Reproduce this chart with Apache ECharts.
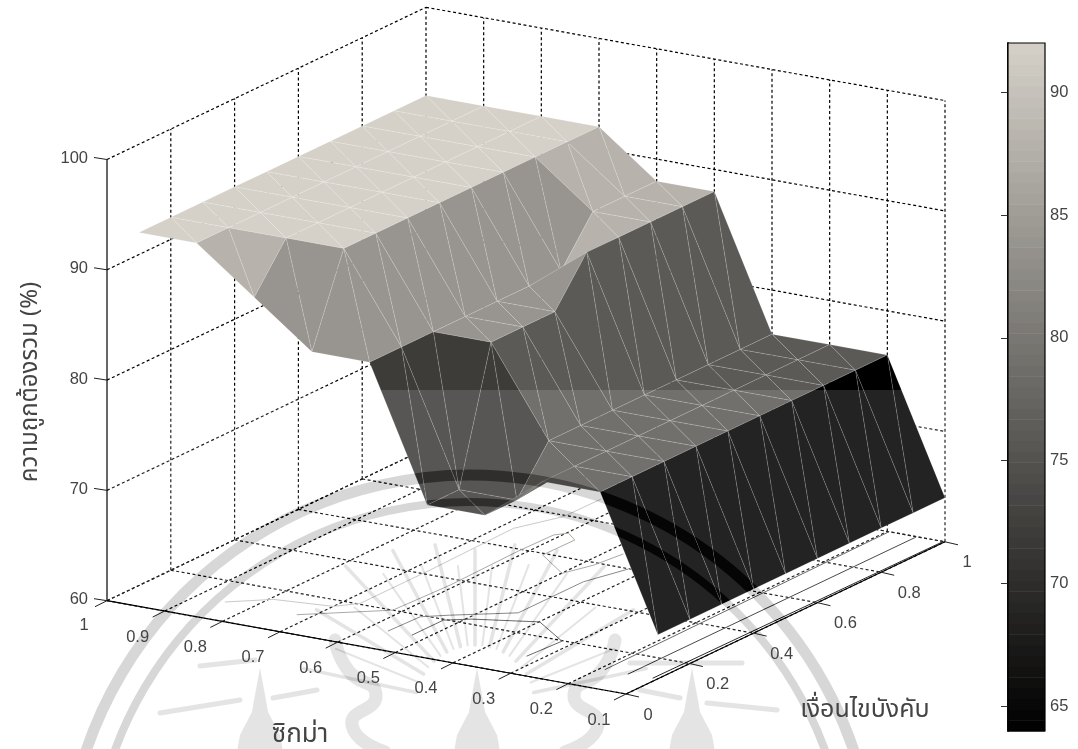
<!DOCTYPE html>
<html><head><meta charset="utf-8">
<style>html,body{margin:0;padding:0;background:#fff}#c{width:1078px;height:749px}</style>
<script src="https://cdn.jsdelivr.net/npm/echarts@6/dist/echarts.min.js"></script>
</head><body><div id="c"></div>
<script>
// ---- data ----
const sigmaValues = [1,0.9,0.8,0.7,0.6,0.5,0.4,0.3,0.2,0.1];
const cValues = [0.1,0.2,0.3,0.4,0.5,0.6,0.7,0.8,0.9,1];
const accuracy = [
 [92,92,92,92,92,92,92,92,92,92],
 [92,92,92,92,92,92,92,92,92,92],
 [88,92,92,92,92,92,92,92,92,92],
 [84,92,92,92,92,92,92,92,92,92],
 [84,84,84,84,84,84,84,88,88,88],
 [72,72,84,84,84,88,88,88,88,88],
 [72,72,76,76,76,76,76,76,76,76],
 [76,76,76,76,76,76,76,76,76,76],
 [76,76,76,76,76,76,76,76,76,76],
 [64,64,64,64,64,64,64,64,64,64]
];
const sigmaTicks = [1,0.9,0.8,0.7,0.6,0.5,0.4,0.3,0.2,0.1];
const cTicks = [0,0.2,0.4,0.6,0.8,1];
const zTicks = [60,70,80,90,100];
const colorbarTicks = [65,70,75,80,85,90];
const contourLevels = [90,85,80,75,75,70,65];
const contourSigma = [
 [.848,.794,.70,.674,.674,.679,.647,.646],
 [.724,.615,.609,.613,.611,.597,.571,.572,.499,.481,.473],
 [.566,.563,.53,.45,.45,.427],
 [.525,.525,.492,.399,.32,.325],
 [.191,.197],
 [.15,.149],
 [.108,.103]
];
const contourC = [
 [.095,.149,.167,.204,.424,.694,.793,.908],
 [.096,.2,.369,.59,.697,.718,.691,.592,.521,.587,.666],
 [.096,.192,.225,.295,.499,.598],
 [.097,.196,.225,.27,.197,.095],
 [.098,1],
 [.096,.997],
 [.098,1]
];
const zMin = 60, zMax = 100, cbMin = 64, cbMax = 92;
const texts = {z:'ความถูกต้องรวม (%)', s:'ซิกม่า', c:'เงื่อนไขบังคับ'};

// ---- view: orthographic 3-D -> plane ----
const O=[107,600.7], cVec=[319,-152.2], sVec=[519,93.3], zk=11.03;
function project(s,c,z){
  const t=(1-s)/0.9;
  return [O[0]+c*cVec[0]+t*sVec[0], O[1]+c*cVec[1]+t*sVec[1]-(z-zMin)*zk];
}
function shade(v){
  const t=Math.max(0,Math.min(1,(v-cbMin)/(cbMax-cbMin)));
  return 'rgb('+Math.round(213*t)+','+Math.round(209*t)+','+Math.round(201*t)+')';
}
const FONT='16.5px "Liberation Sans","Noto Sans",sans-serif', TXT='#444';
const THAI='"Noto Sans Thai","Noto Serif Thai","DejaVu Sans","Noto Sans",sans-serif';

// ---- series data ----
const tris=[];
for(let i=0;i<sigmaValues.length-1;i++){
  for(let j=cValues.length-2;j>=0;j--){
    const A=[sigmaValues[i],cValues[j],accuracy[i][j]],
          B=[sigmaValues[i+1],cValues[j],accuracy[i+1][j]],
          C=[sigmaValues[i],cValues[j+1],accuracy[i][j+1]],
          D=[sigmaValues[i+1],cValues[j+1],accuracy[i+1][j+1]];
    tris.push([...C,...D,...B,B[2]]);
    tris.push([...A,...C,...B,B[2]]);
  }
}
const gridSegs=[];
const s0=sigmaTicks[0], s1=sigmaTicks[sigmaTicks.length-1];
zTicks.forEach(z=>{ gridSegs.push([s0,0,z,s0,1,z]); gridSegs.push([s0,1,z,s1,1,z]); });
cTicks.forEach(c=>{ gridSegs.push([s0,c,zMin,s1,c,zMin]); if(c>0) gridSegs.push([s0,c,zMin,s0,c,zMax]); });
sigmaTicks.forEach(s=>{ gridSegs.push([s,0,zMin,s,1,zMin]); if(s<s0) gridSegs.push([s,1,zMin,s,1,zMax]); });
const axisSegs=[[s0,0,zMin,s0,0,zMax],[s0,0,zMin,s1,0,zMin],[s1,0,zMin,s1,1,zMin]];
const tickLen={s:[-12,6],c:[13,3],z:[-13,-2]};
const tickItems=[];
sigmaTicks.forEach(s=>tickItems.push([s,0,zMin,tickLen.s[0],tickLen.s[1]]));
cTicks.forEach(c=>tickItems.push([s1,c,zMin,tickLen.c[0],tickLen.c[1]]));
zTicks.forEach(z=>tickItems.push([s0,0,z,tickLen.z[0],tickLen.z[1]]));
const labelItems=[];
sigmaTicks.forEach(s=>labelItems.push([s,0,zMin,String(s),s===1?-23:-27,s===1?25:26,'center']));
cTicks.forEach(c=>labelItems.push([s1,c,zMin,String(c),(c===0||c===1)?22:28,21,'center']));
zTicks.forEach(z=>labelItems.push([s0,0,z,String(z),-19,-1,'right']));
const contourData=contourSigma.map((row,i)=>({value:[i,contourLevels[i]]}));
const cbLevels=[];
for(let i=0;i<64;i++) cbLevels.push([cbMin+i*(cbMax-cbMin)/64, cbMin+(i+1)*(cbMax-cbMin)/64]);

// ---- watermark (decoration) ----
const WM='#282828', WML='#1b1b1b';
const wm=[];
function wmLine(pts,w,smooth,col){wm.push({type:'polyline',z:60,silent:true,shape:{points:pts,smooth:smooth||0},style:{stroke:col||WML,lineWidth:w,fill:null,lineCap:'round',blend:'difference'}});}
function wmRing(R,w){wm.push({type:'arc',z:60,silent:true,shape:{cx:470,cy:880,r:R,startAngle:Math.PI*1.05,endAngle:Math.PI*1.95},style:{stroke:WM,lineWidth:w,fill:null,blend:'difference'}});}
wmRing(405,11); wmRing(378,8);
const rayAngles=[12,22,31,39,47,55,62,69,76,83,90,97,104,111,118,125,133,141,149,158,168];
const rayOuter=[175,150,185,155,190,160,175,150,165,140,155,140,165,150,175,160,190,155,185,150,175];
rayAngles.forEach((a,i)=>{
  const r=a*Math.PI/180, c=Math.cos(r), s=Math.sin(r), R1=60, R2=rayOuter[i];
  wmLine([[475+c*R1,705-s*R1],[475+c*R2,705-s*R2]],i%2?2:3.5);
});
[[[335,640],[348,670],[376,695],[352,725],[385,752]],[[615,640],[602,670],[574,695],[598,725],[565,752]]].forEach(p=>wmLine(p,13,0.6));
[[[200,666],[255,660]],[[160,713],[240,700]],[[273,698],[317,690]],[[630,663],[742,663]],[[707,703],[777,710]],[[640,690],[680,698]]].forEach(p=>wmLine(p,5));
[260,692,477].forEach(x=>{
  wm.push({type:'polygon',z:60,silent:true,shape:{points:[[x,668],[x+5,695],[x+8,712],[x+20,735],[x+23,752],[x-23,752],[x-20,735],[x-8,712],[x-5,695]]},style:{fill:WML,blend:'difference'}});
});
wm.push({type:'rect',z:50,silent:true,shape:{x:0,y:390,width:985,height:359},style:{fill:'rgba(255,255,255,0.137)'}});
wm.push({type:'text',z:90,silent:true,x:32,y:382,rotation:Math.PI/2,style:{text:texts.z,font:'24px '+THAI,fill:TXT,align:'center',verticalAlign:'middle'}});
wm.push({type:'text',z:90,silent:true,x:300,y:737,style:{text:texts.s,font:'26px '+THAI,fill:TXT,align:'center',verticalAlign:'middle'}});
wm.push({type:'text',z:90,silent:true,x:865,y:712,style:{text:texts.c,font:'25px '+THAI,fill:TXT,align:'center',verticalAlign:'middle'}});

function seg(api,d,style){
  const a=api.coord(project(d[0],d[1],d[2])), b=api.coord(project(d[3],d[4],d[5]));
  return {type:'line',shape:{x1:a[0],y1:a[1],x2:b[0],y2:b[1]},style:style};
}
const chart=echarts.init(document.getElementById('c'),null,{renderer:'canvas'});
chart.setOption({
  animation:false,
  backgroundColor:'#fff',
  grid:[{left:0,top:0,width:1078,height:749,show:false},{left:1008,top:43,width:37,height:688,show:false}],
  xAxis:[{type:'value',gridIndex:0,min:0,max:1078,show:false},{type:'value',gridIndex:1,min:0,max:1,show:false}],
  yAxis:[
    {type:'value',gridIndex:0,min:0,max:749,inverse:true,show:false},
    {type:'value',gridIndex:1,min:cbMin,max:cbMax,position:'right',splitLine:{show:false},
     axisLine:{show:true,lineStyle:{color:'#000',width:1.5}},
     axisTick:{show:true,inside:true,length:7,lineStyle:{color:'#333'},customValues:colorbarTicks},
     axisLabel:{show:true,color:TXT,fontSize:16.5,fontFamily:'Liberation Sans',margin:5,customValues:colorbarTicks}},
    {type:'value',gridIndex:1,min:cbMin,max:cbMax,position:'left',splitLine:{show:false},
     axisLine:{show:true,lineStyle:{color:'#000',width:1.5}},
     axisTick:{show:true,inside:true,length:7,lineStyle:{color:'#333'},customValues:colorbarTicks},
     axisLabel:{show:false}}
  ],
  series:[
   {type:'custom',name:'grid',z:2,silent:true,coordinateSystem:'cartesian2d',xAxisIndex:0,yAxisIndex:0,clip:false,
    data:gridSegs,encode:{x:[],y:[]},
    renderItem:(p,api)=>seg(api,gridSegs[p.dataIndex],{stroke:'#000',lineWidth:1.2,lineDash:[3,2.5],fill:null})},
   {type:'custom',name:'contours',z:3,silent:true,coordinateSystem:'cartesian2d',xAxisIndex:0,yAxisIndex:0,clip:false,
    data:contourData,encode:{x:[],y:[]},
    renderItem:(p,api)=>{
      const i=p.dataIndex;
      const pts=contourSigma[i].map((s,n)=>api.coord(project(s,contourC[i][n],zMin)));
      return {type:'polyline',shape:{points:pts},style:{stroke:shade(contourLevels[i]),lineWidth:1,fill:null}};
    }},
   {type:'custom',name:'surface',z:4,silent:true,coordinateSystem:'cartesian2d',xAxisIndex:0,yAxisIndex:0,clip:false,
    data:tris,encode:{x:[],y:[]},
    renderItem:(p,api)=>{
      const d=tris[p.dataIndex];
      const pts=[api.coord(project(d[0],d[1],d[2])),api.coord(project(d[3],d[4],d[5])),api.coord(project(d[6],d[7],d[8]))];
      return {type:'polygon',shape:{points:pts},style:{fill:shade(d[9]),stroke:'rgba(255,255,255,0.24)',lineWidth:0.6}};
    }},
   {type:'custom',name:'axes',z:70,silent:true,coordinateSystem:'cartesian2d',xAxisIndex:0,yAxisIndex:0,clip:false,
    data:axisSegs,encode:{x:[],y:[]},
    renderItem:(p,api)=>seg(api,axisSegs[p.dataIndex],{stroke:'#000',lineWidth:1.2,fill:null})},
   {type:'custom',name:'ticks',z:70,silent:true,coordinateSystem:'cartesian2d',xAxisIndex:0,yAxisIndex:0,clip:false,
    data:tickItems,encode:{x:[],y:[]},
    renderItem:(p,api)=>{
      const d=tickItems[p.dataIndex], a=api.coord(project(d[0],d[1],d[2]));
      return {type:'line',shape:{x1:a[0],y1:a[1],x2:a[0]+d[3],y2:a[1]+d[4]},style:{stroke:'#222',lineWidth:1,fill:null}};
    }},
   {type:'custom',name:'labels',z:90,silent:true,coordinateSystem:'cartesian2d',xAxisIndex:0,yAxisIndex:0,clip:false,
    data:labelItems,encode:{x:[],y:[]},
    renderItem:(p,api)=>{
      const d=labelItems[p.dataIndex], a=api.coord(project(d[0],d[1],d[2]));
      return {type:'text',x:a[0]+d[4],y:a[1]+d[5],style:{text:d[3],font:FONT,fill:TXT,align:d[6],verticalAlign:'middle'}};
    }},
   {type:'custom',name:'colorbar',z:1,silent:true,coordinateSystem:'cartesian2d',xAxisIndex:1,yAxisIndex:1,clip:false,
    data:cbLevels,encode:{x:[],y:[]},
    renderItem:(p,api)=>{
      const d=cbLevels[p.dataIndex], a=api.coord([0,d[0]]), b=api.coord([1,d[1]]);
      return {type:'rect',shape:{x:a[0],y:b[1],width:b[0]-a[0],height:a[1]-b[1]+0.6},style:{fill:shade((d[0]+d[1])/2)}};
    }},
   {type:'custom',name:'colorbarFrame',z:3,silent:true,coordinateSystem:'cartesian2d',xAxisIndex:1,yAxisIndex:1,clip:false,
    data:[[cbMin,cbMax]],encode:{x:[],y:[]},
    renderItem:(p,api)=>{
      const a=api.coord([0,cbMin]), b=api.coord([1,cbMax]);
      return {type:'rect',shape:{x:a[0],y:b[1],width:b[0]-a[0],height:a[1]-b[1]},style:{fill:null,stroke:'#000',lineWidth:1.2}};
    }}
  ],
  graphic:{elements:wm}
});
</script></body></html>
